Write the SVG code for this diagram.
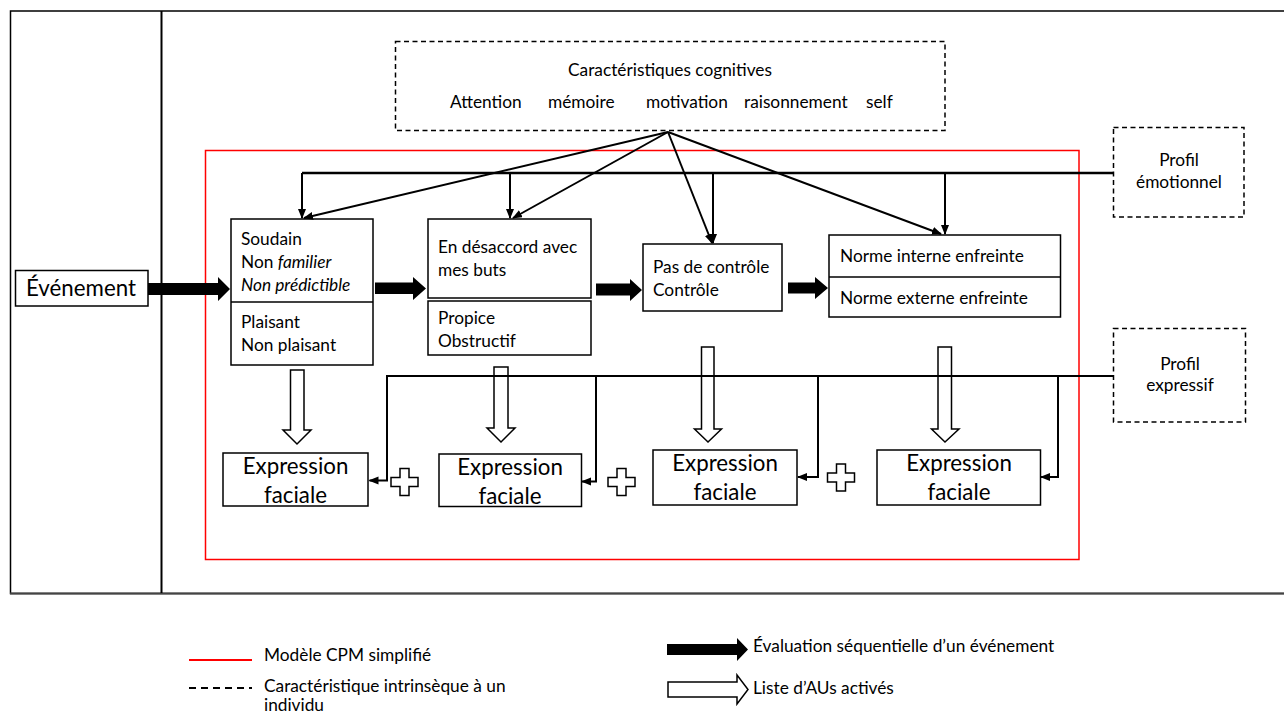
<svg xmlns="http://www.w3.org/2000/svg" width="1284" height="716" viewBox="0 0 1284 716">
<style>
.box{fill:#fff;stroke:#000;stroke-width:1.5}
.dash{fill:#fff;stroke:#000;stroke-width:1.5;stroke-dasharray:5 3.5}
.t{font-family:Lato,"Open Sans",sans-serif;font-size:17.3px;fill:#000}
.big{font-size:22.3px}
.mid{text-anchor:middle}
.it{font-style:italic}
.ln{fill:none;stroke:#000;stroke-width:2}
.blk{fill:#000;stroke:none}
.hol{fill:#fff;stroke:#000;stroke-width:1.5}
</style>
<defs>
<marker id="ah" markerUnits="userSpaceOnUse" markerWidth="12" markerHeight="10" refX="9" refY="4" orient="auto">
<path d="M0,0 L10,4 L0,8 Z" fill="#000"/>
</marker>
</defs>
<rect width="1284" height="716" fill="#fff"/>

<g id="frame">
<path d="M1284,11 H10.5 V593.5 H1284" fill="none" stroke="#000" stroke-width="1.5"/>
<line x1="1284" y1="593.5" x2="10" y2="593.5" stroke="#444" stroke-width="2"/>
<line x1="161.5" y1="11" x2="161.5" y2="593" stroke="#000" stroke-width="2"/>
</g>

<g id="cpm-model">
<rect x="205.5" y="150.5" width="873.5" height="409" fill="none" stroke="#f00" stroke-width="1.5"/>
</g>

<g id="cognitive">
<rect class="dash" x="395.5" y="41.5" width="549.5" height="89"/>
<text class="t mid" x="670" y="76">Caractéristiques cognitives</text>
<text class="t" x="450" y="108">Attention</text>
<text class="t" x="548" y="108">mémoire</text>
<text class="t" x="646" y="108">motivation</text>
<text class="t" x="744" y="108">raisonnement</text>
<text class="t" x="866" y="108">self</text>
</g>

<g id="profil-emotionnel">
<rect class="dash" x="1113.5" y="127.5" width="130.5" height="89.5"/>
<text class="t mid" x="1179" y="166">Profil</text>
<text class="t mid" x="1179" y="188">émotionnel</text>
</g>

<g id="profil-expressif">
<rect class="dash" x="1113.5" y="328.5" width="132" height="93.5"/>
<text class="t mid" x="1180" y="370">Profil</text>
<text class="t mid" x="1180" y="391">expressif</text>
</g>

<g id="evenement">
<rect class="box" x="15.5" y="270.5" width="132.5" height="35.5"/>
<text class="t big" x="26" y="296">Événement</text>
</g>

<g id="soudain">
<rect class="box" x="231" y="219" width="142" height="146"/>
<line x1="231" y1="302" x2="373" y2="302" stroke="#000" stroke-width="1.5"/>
<text class="t" x="241" y="245">Soudain</text>
<text class="t" x="241" y="268">Non <tspan class="it">familier</tspan></text>
<text class="t it" x="241" y="291">Non prédictible</text>
<text class="t" x="241" y="328">Plaisant</text>
<text class="t" x="241" y="351">Non plaisant</text>
</g>

<g id="desaccord">
<rect class="box" x="428" y="219" width="163" height="79"/>
<text class="t" x="438" y="253">En désaccord avec</text>
<text class="t" x="438" y="276">mes buts</text>
</g>
<g id="propice">
<rect class="box" x="428" y="301" width="163" height="54"/>
<text class="t" x="438" y="324">Propice</text>
<text class="t" x="438" y="347">Obstructif</text>
</g>

<g id="controle">
<rect class="box" x="643" y="244" width="139" height="67"/>
<text class="t" x="653" y="273">Pas de contrôle</text>
<text class="t" x="653" y="296">Contrôle</text>
</g>

<g id="norme">
<rect class="box" x="829" y="235" width="231.5" height="82"/>
<line x1="829" y1="277" x2="1060.5" y2="277" stroke="#000" stroke-width="1.5"/>
<text class="t" x="840" y="262">Norme interne enfreinte</text>
<text class="t" x="840" y="304">Norme externe enfreinte</text>
</g>

<g id="expr1">
<rect class="box" x="223" y="453" width="145" height="53"/>
<text class="t big mid" x="295.5" y="474">Expression</text>
<text class="t big mid" x="295.5" y="503">faciale</text>
</g>
<g id="expr2">
<rect class="box" x="439" y="454" width="142.5" height="52.5"/>
<text class="t big mid" x="510" y="475">Expression</text>
<text class="t big mid" x="510" y="504">faciale</text>
</g>
<g id="expr3">
<rect class="box" x="653" y="450" width="144" height="55"/>
<text class="t big mid" x="725" y="471">Expression</text>
<text class="t big mid" x="725" y="500">faciale</text>
</g>
<g id="expr4">
<rect class="box" x="877" y="450" width="163.5" height="55"/>
<text class="t big mid" x="959" y="471">Expression</text>
<text class="t big mid" x="959" y="500">faciale</text>
</g>

<g id="plus-signs">
<path class="hol" d="M400,468.5 h9 v9 h9 v9 h-9 v9 h-9 v-9 h-9 v-9 h9 Z"/>
<path class="hol" d="M617,468.5 h9 v9 h9 v9 h-9 v9 h-9 v-9 h-9 v-9 h9 Z"/>
<path class="hol" d="M836.5,464 h9 v9 h9 v9 h-9 v9 h-9 v-9 h-9 v-9 h9 Z"/>
</g>

<g id="connectors">
<polygon class="blk" points="148,283 218,283 218,277 230,289 218,301 218,295 148,295"/>
<polygon class="blk" points="375,282.5 413,282.5 413,277 426,288.5 413,300 413,294 375,294"/>
<polygon class="blk" points="596,283.5 630,283.5 630,279 642,290 630,301 630,295.5 596,295.5"/>
<polygon class="blk" points="788,282.5 815,282.5 815,277 828,288 815,299 815,293.5 788,293.5"/>
<polygon class="hol" points="290.5,370 304,370 304,430 311,430 297,444 283,430 290.5,430"/>
<polygon class="hol" points="494,367 508,367 508,428 515,428 501,442 487,428 494,428"/>
<polygon class="hol" points="701.5,347 714,347 714,429 721.5,429 708,442 694.5,429 701.5,429"/>
<polygon class="hol" points="938,347 951.5,347 951.5,429 959,429 945,442 931.5,429 938,429"/>
<line class="ln" x1="668" y1="132" x2="304" y2="218" marker-end="url(#ah)"/>
<line class="ln" x1="668" y1="132" x2="513" y2="218" marker-end="url(#ah)"/>
<line class="ln" x1="668" y1="132" x2="712" y2="243" marker-end="url(#ah)"/>
<line class="ln" x1="668" y1="132" x2="941" y2="234" marker-end="url(#ah)"/>
<path d="M1113,173 H302" fill="none" stroke="#000" stroke-width="2.5"/>
<path class="ln" d="M302,173 V218" marker-end="url(#ah)"/>
<path class="ln" d="M510,173 V218" marker-end="url(#ah)"/>
<path class="ln" d="M713,173 V243" marker-end="url(#ah)"/>
<path class="ln" d="M945,173 V234" marker-end="url(#ah)"/>
<path class="ln" d="M1113,376 H387 V480.5 H369.5" marker-end="url(#ah)"/>
<path class="ln" d="M596,376 V481.5 H582" marker-end="url(#ah)"/>
<path class="ln" d="M818,376 V477 H798" marker-end="url(#ah)"/>
<path class="ln" d="M1058,376 V477 H1041" marker-end="url(#ah)"/>
</g>

<g id="legend">
<line x1="189" y1="660" x2="252" y2="660" stroke="#f00" stroke-width="2"/>
<text class="t" x="264" y="661">Modèle CPM simplifié</text>
<line x1="189" y1="688" x2="252" y2="688" stroke="#000" stroke-width="2" stroke-dasharray="7 5"/>
<text class="t" x="264" y="692">Caractéristique intrinsèque à un</text>
<text class="t" x="264" y="711">individu</text>
<polygon class="blk" points="667,644 737,644 737,638 748,649.5 737,661 737,655 667,655"/>
<text class="t" x="753" y="652">Évaluation séquentielle d’un événement</text>
<polygon class="hol" points="668,682 737,682 737,675 748,689.5 737,704 737,697 668,697"/>
<text class="t" x="753" y="694">Liste d’AUs activés</text>
</g>
</svg>
